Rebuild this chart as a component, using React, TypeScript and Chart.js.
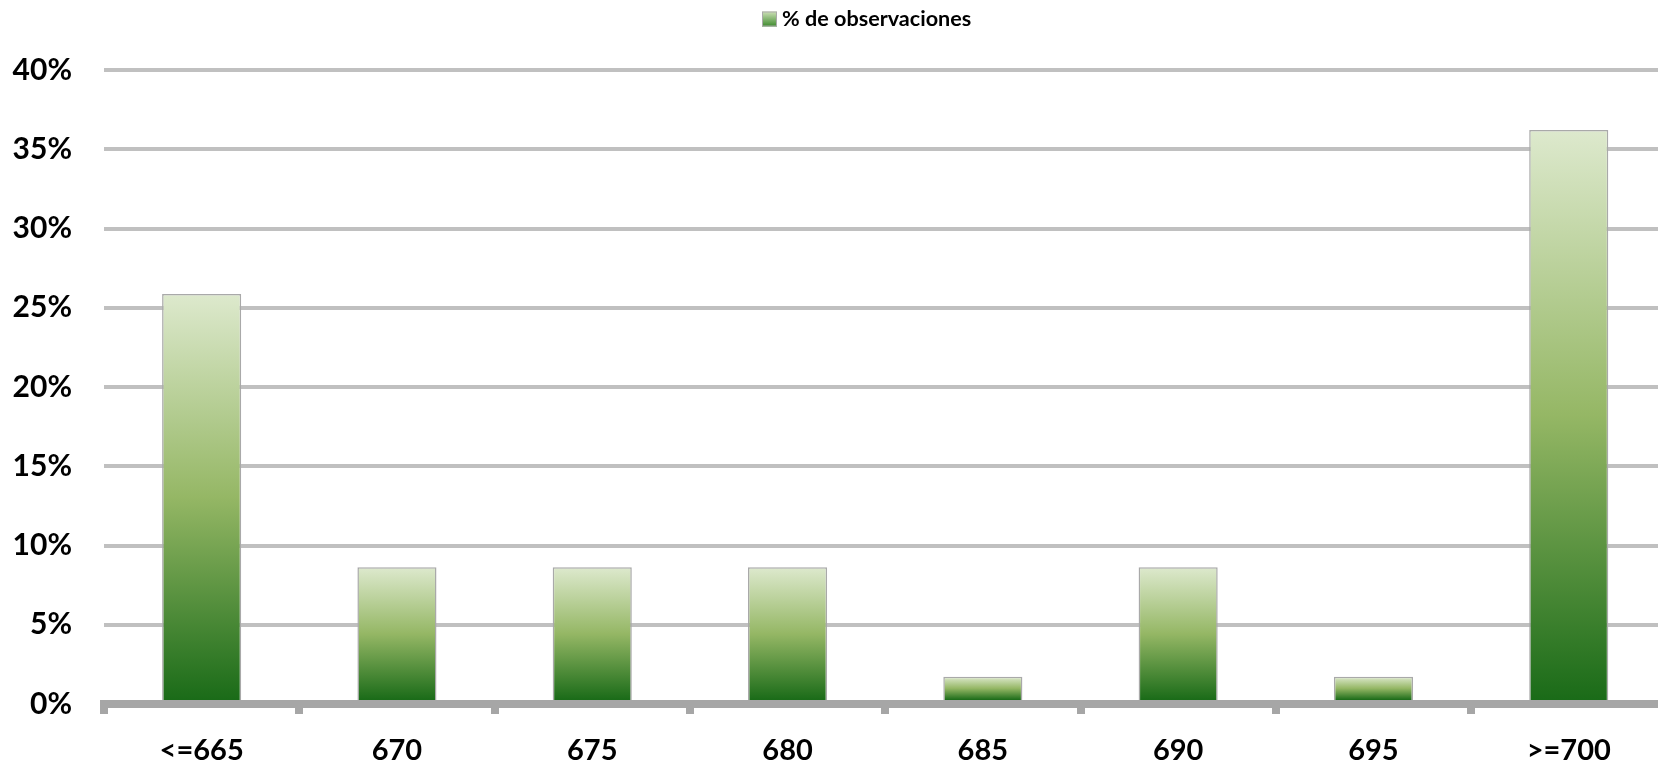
import React, { useEffect, useRef } from "react";
import { Chart, registerables } from "chart.js";

Chart.register(...registerables);

const categories = ["<=665", "670", "675", "680", "685", "690", "695", ">=700"];
const seriesLabel = "% de observaciones";
const seriesValues = [25.86, 8.62, 8.62, 8.62, 1.72, 8.62, 1.72, 36.21];
const yTicks = [0, 5, 10, 15, 20, 25, 30, 35, 40];

const FONT = "Lato, 'Open Sans', sans-serif";

const layoutAdjust = {
  id: "layoutAdjust",
  afterLayout(chart: any) {
    const xs = chart.scales.x;
    if (xs) {
      xs.right = xs.left + 8 * 195.3;
      xs.width = xs.right - xs.left;
      xs.configure();
    }
  },
  afterDraw(chart: any) {
    const ctx = chart.ctx;
    const ds = chart.data.datasets[0];
    ctx.save();
    const bx = 762;
    const by = 11.5;
    const bs = 15;
    const g = ctx.createLinearGradient(0, by, 0, by + bs);
    g.addColorStop(0, "#cfe1b8");
    g.addColorStop(1, "#3c8a2c");
    ctx.fillStyle = g;
    ctx.fillRect(bx, by, bs, bs);
    ctx.strokeStyle = "#a9a9a9";
    ctx.lineWidth = 1;
    ctx.strokeRect(bx + 0.5, by + 0.5, bs - 1, bs - 1);
    ctx.fillStyle = "#000";
    ctx.font = "bold 21.6px " + FONT;
    ctx.textAlign = "left";
    ctx.textBaseline = "middle";
    ctx.fillText(ds.label, 782, 19);
    ctx.restore();
  },
};

export default function App() {
  const ref = useRef<HTMLCanvasElement | null>(null);

  useEffect(() => {
    document.body.style.margin = "0";
    const canvas = ref.current;
    if (!canvas) return;

    const barFill = (ctx: any) => {
      const chart = ctx.chart;
      const ys = chart.scales && chart.scales.y;
      if (ctx.type !== "data" || !ys || !chart.chartArea) return "#7aa64f";
      const v = ctx.raw as number;
      const top = ys.getPixelForValue(v);
      const base = ys.getPixelForValue(0) - 4;
      const g = chart.ctx.createLinearGradient(0, base, 0, top);
      g.addColorStop(0, "#1a6b18");
      g.addColorStop(0.5, "#95b765");
      g.addColorStop(1, "#dde9cd");
      return g;
    };

    const chart = new Chart(canvas, {
      type: "bar",
      data: {
        labels: categories,
        datasets: [
          {
            label: seriesLabel,
            data: seriesValues,
            backgroundColor: barFill,
            borderColor: "#a9a9a9",
            borderWidth: 1.5,
            borderSkipped: "bottom",
            barPercentage: 0.405,
            categoryPercentage: 1,
          },
        ],
      },
      plugins: [layoutAdjust],
      options: {
        responsive: false,
        animation: false,
        layout: { padding: { top: 70, right: 0, bottom: 0, left: 0 } },
        plugins: {
          legend: { display: false },
          tooltip: { enabled: false },
        },
        scales: {
          x: {
            grid: {
              display: true,
              drawOnChartArea: false,
              drawTicks: true,
              tickLength: 10,
              lineWidth: 8,
              color: "#a6a6a6",
              offset: true,
            },
            border: { display: true, width: 8, color: "#a6a6a6", z: 1 },
            ticks: {
              font: { family: FONT, size: 29, weight: "bold" },
              color: "#000",
              padding: 19,
              maxRotation: 0,
              autoSkip: false,
            },
            afterFit: (s: any) => {
              s.height = 59;
            },
          },
          y: {
            min: 0,
            max: 40,
            afterBuildTicks: (s: any) => {
              s.ticks = yTicks.map((v) => ({ value: v }));
            },
            grid: {
              color: "#c0c0c0",
              lineWidth: 4,
              drawTicks: false,
            },
            border: { display: false },
            ticks: {
              font: { family: FONT, size: 30, weight: "bold" },
              color: "#000",
              padding: 32,
              callback: (v: any) => v + "%",
            },
            afterFit: (s: any) => {
              s.width = 104;
            },
          },
        },
      },
    });

    return () => chart.destroy();
  }, []);

  return <canvas ref={ref} width={1658} height={763} style={{ display: "block" }} />;
}
